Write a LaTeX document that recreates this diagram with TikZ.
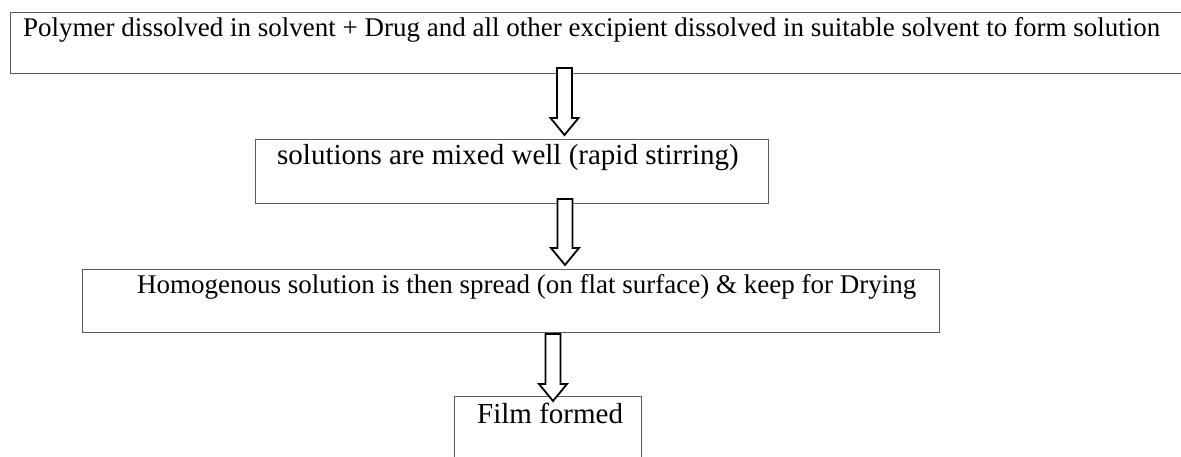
\documentclass[tikz,border=0pt]{standalone}
\usepackage{fontspec}
\setmainfont{Liberation Serif}
\usetikzlibrary{calc}
\definecolor{boxgray}{HTML}{5A5A5A}
\newcommand\blockarr[2]{%
  \draw[barrow] ($(#1)+(-7.5,0)$) -- ($(#2)+(-7.5,-17)$) -- ($(#2)+(-14,-17)$) -- (#2)
    -- ($(#2)+(14,-17)$) -- ($(#2)+(7.5,-17)$) -- ($(#1)+(7.5,0)$) -- cycle;}
\begin{document}
\begin{tikzpicture}[x=1pt,y=-1pt,
  box/.style={draw=boxgray, line width=1.3pt, anchor=north west, inner sep=0pt},
  lbl/.style={anchor=base west, inner sep=0pt, font=\fontsize{29}{33}\selectfont},
  lblsm/.style={anchor=base west, inner sep=0pt, font=\fontsize{27}{31}\selectfont},
  barrow/.style={draw=black, fill=white, line width=1.8pt, line join=miter}]
\useasboundingbox (0,0) rectangle (1181,456);
\clip (0,0) rectangle (1181,456);
\fill[white] (0,0) rectangle (1181,456);
% boxes
\node[box, minimum width=1180pt, minimum height=61pt] (b1) at (10,12) {};
\node[box, minimum width=513pt, minimum height=64pt] (b2) at (255,139) {};
\node[box, minimum width=857pt, minimum height=63pt] (b3) at (82,269) {};
\node[box, minimum width=187pt, minimum height=80pt] (b4) at (454,396) {};
% texts
\node[lblsm] (t1) at (23,36) {Polymer dissolved in solvent + Drug and all other excipient dissolved in suitable solvent to form solution};
\node[lbl] (t2) at (277,164) {solutions are mixed well (rapid stirring)};
\node[lblsm] (t3) at (137,293) {Homogenous solution is then spread (on flat surface) \& keep for Drying};
\node[lbl] (t4) at (477,423) {Film formed};
% arrows
\coordinate (a1s) at (564.5,68);  \coordinate (a1e) at (564.5,135);
\coordinate (a2s) at (565,199);   \coordinate (a2e) at (565,265);
\coordinate (a3s) at (553,334);   \coordinate (a3e) at (553,401);
\blockarr{a1s}{a1e}
\blockarr{a2s}{a2e}
\blockarr{a3s}{a3e}
\end{tikzpicture}
\end{document}
